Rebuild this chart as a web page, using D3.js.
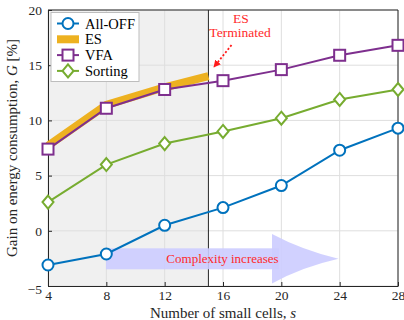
<!DOCTYPE html>
<html>
<head>
<meta charset="utf-8">
<script src="https://cdn.jsdelivr.net/npm/d3@7"></script>
<style>
  body { margin: 0; background: #fff; }
</style>
</head>
<body>
<script>
// chart data
var cells = [4, 8, 12, 16, 20, 24, 28];
var allOff = [-3.1, -2.1, 0.5, 2.1, 4.1, 7.3, 9.3];
var vfa = [7.4, 11.1, 12.8, 13.6, 14.6, 15.9, 16.8];
var sorting = [2.6, 6.0, 7.9, 9.0, 10.2, 11.9, 12.8];
var esCells = [4, 8, 12, 15];
var es = [7.7, 11.4, 13.0, 14.0];
var yTicks = [-5, 0, 5, 10, 15, 20];
var esLimit = 15;

var width = 404, height = 320;
var margin = {left: 48, right: 6, top: 10, bottom: 34};
var serif = "'Liberation Serif', Tinos, 'Times New Roman', Times, 'DejaVu Serif', serif";

var svg = d3.select("body").append("svg")
    .attr("width", width)
    .attr("height", height)
    .style("font-family", serif);

var x = d3.scaleLinear().domain([4, 28]).range([margin.left, width - margin.right]);
var y = d3.scaleLinear().domain([-5, 20]).range([height - margin.bottom, margin.top]);

var colors = {allOff: "#0072BD", es: "#EDB120", vfa: "#7E2F8E", sorting: "#77AC30"};

// shaded region where ES runs
svg.append("rect")
    .attr("x", x(4)).attr("y", y(20))
    .attr("width", x(esLimit) - x(4))
    .attr("height", y(-5) - y(20))
    .attr("fill", "#f0f0f0");

// grid
svg.selectAll(".gx").data(cells).enter().append("line")
    .attr("x1", d => x(d)).attr("x2", d => x(d))
    .attr("y1", y(-5)).attr("y2", y(20))
    .attr("stroke", "#dedede").attr("stroke-width", 1);
svg.selectAll(".gy").data(yTicks).enter().append("line")
    .attr("x1", x(4)).attr("x2", x(28))
    .attr("y1", d => y(d)).attr("y2", d => y(d))
    .attr("stroke", "#dedede").attr("stroke-width", 1);

// ES termination line
svg.append("line")
    .attr("x1", x(esLimit)).attr("x2", x(esLimit))
    .attr("y1", y(-5)).attr("y2", y(20))
    .attr("stroke", "#262626").attr("stroke-width", 1);

// axes
var xAxis = d3.axisBottom(x).tickValues(cells).tickSizeInner(-4).tickSizeOuter(0).tickPadding(4);
var yAxis = d3.axisLeft(y).tickValues(yTicks).tickSizeInner(-4).tickSizeOuter(0).tickPadding(6);
var gx = svg.append("g").attr("transform", "translate(0," + y(-5) + ")").call(xAxis);
var gy = svg.append("g").attr("transform", "translate(" + x(4) + ",0)").call(yAxis);
[gx, gy].forEach(function(g) {
    g.attr("font-family", null).attr("font-size", null);
    g.select(".domain").attr("stroke", "#262626");
    g.selectAll(".tick line").attr("stroke", "#262626");
    g.selectAll(".tick text").attr("fill", "#262626").style("font-size", "13.5px");
});
gy.selectAll(".tick text").filter(d => d === -5).attr("dy", "0.55em");
// top and right border
svg.append("line").attr("x1", x(4)).attr("x2", x(28)).attr("y1", y(20)).attr("y2", y(20))
    .attr("stroke", "#262626");
svg.append("line").attr("x1", x(28)).attr("x2", x(28)).attr("y1", y(20)).attr("y2", y(-5))
    .attr("stroke", "#262626");

// complexity arrow
var ay = 258.8;
var body = [106, 248.3, 279, 269.3];
var arrowColor = "#ccccff";
svg.append("rect")
    .attr("x", body[0]).attr("y", body[1])
    .attr("width", body[2] - body[0]).attr("height", body[3] - body[1])
    .attr("fill", arrowColor).attr("opacity", 0.9);
var hx = 272, tip = 338.5;
svg.append("path")
    .attr("d", "M" + hx + ",234 Q" + (hx + 30) + ",250 " + tip + "," + ay +
        " Q" + (hx + 30) + ",267 " + hx + ",283.5 Z")
    .attr("fill", arrowColor).attr("opacity", 0.9);
svg.append("text")
    .attr("x", 222.5).attr("y", ay + 4.5)
    .attr("text-anchor", "middle")
    .attr("fill", "#ff2a2a").style("font-size", "13px")
    .text("Complexity increases");

// lines
var line = d3.line().x(d => x(d[0])).y(d => y(d[1]));

svg.append("path")
    .datum(d3.zip(esCells, es))
    .attr("d", line)
    .attr("fill", "none")
    .attr("stroke", colors.es)
    .attr("stroke-width", 8);

function series(vals, color) {
    svg.append("path")
        .datum(d3.zip(cells, vals))
        .attr("d", line)
        .attr("fill", "none")
        .attr("stroke", color)
        .attr("stroke-width", 2);
}
series(sorting, colors.sorting);
series(allOff, colors.allOff);
series(vfa, colors.vfa);

function marker(g, type, cx, cy, color) {
    if (type === "circle") {
        g.append("circle").attr("cx", cx).attr("cy", cy).attr("r", 5.5)
            .attr("fill", "#fff").attr("stroke", color).attr("stroke-width", 2);
    } else if (type === "square") {
        g.append("rect").attr("x", cx - 5.5).attr("y", cy - 5.5)
            .attr("width", 11).attr("height", 11)
            .attr("fill", "#fff").attr("stroke", color).attr("stroke-width", 2);
    } else {
        g.append("path")
            .attr("d", "M" + cx + "," + (cy - 6.5) + " L" + (cx + 5.5) + "," + cy +
                " L" + cx + "," + (cy + 6.5) + " L" + (cx - 5.5) + "," + cy + " Z")
            .attr("fill", "#fff").attr("stroke", color).attr("stroke-width", 2);
    }
}
cells.forEach(function(c, i) {
    marker(svg, "diamond", x(c), y(sorting[i]), colors.sorting);
    marker(svg, "circle", x(c), y(allOff[i]), colors.allOff);
    marker(svg, "square", x(c), y(vfa[i]), colors.vfa);
});

// ES terminated annotation
svg.append("defs").append("marker")
    .attr("id", "head").attr("viewBox", "0 0 10 10")
    .attr("refX", 9).attr("refY", 5)
    .attr("markerWidth", 4).attr("markerHeight", 4)
    .attr("orient", "auto")
    .append("path").attr("d", "M0,0 L10,5 L0,10 Z").attr("fill", "#ff1a1a");
svg.append("line")
    .attr("x1", 231.5).attr("y1", 45).attr("x2", 214).attr("y2", 67)
    .attr("stroke", "#ff1a1a").attr("stroke-width", 1.8)
    .attr("stroke-dasharray", "2,2")
    .attr("marker-end", "url(#head)");
var ann = svg.append("text").attr("fill", "#ff2a2a").style("font-size", "13.5px")
    .attr("text-anchor", "middle");
ann.append("tspan").attr("x", 241).attr("y", 22.5).text("ES");
ann.append("tspan").attr("x", 240).attr("y", 37).text("Terminated");

// legend
var leg = svg.append("g");
leg.append("rect").attr("x", 51).attr("y", 12.5).attr("width", 88).attr("height", 69)
    .attr("fill", "#fff").attr("stroke", "#bdbdbd").attr("stroke-width", 1);
var items = [
    {name: "All-OFF", color: colors.allOff, type: "circle"},
    {name: "ES", color: colors.es, type: "band"},
    {name: "VFA", color: colors.vfa, type: "square"},
    {name: "Sorting", color: colors.sorting, type: "diamond"}
];
items.forEach(function(it, i) {
    var ly = 23.5 + i * 15.8;
    if (it.type === "band") {
        leg.append("line").attr("x1", 57).attr("x2", 79).attr("y1", ly).attr("y2", ly)
            .attr("stroke", it.color).attr("stroke-width", 8);
    } else {
        leg.append("line").attr("x1", 57).attr("x2", 79).attr("y1", ly).attr("y2", ly)
            .attr("stroke", it.color).attr("stroke-width", 2);
        marker(leg, it.type, 68, ly, it.color);
    }
    leg.append("text").attr("x", 85).attr("y", ly + 5)
        .style("font-size", "14.5px").attr("fill", "#000").text(it.name);
});

// axis labels
var xl = svg.append("text")
    .attr("x", (x(4) + x(28)) / 2).attr("y", 317.5)
    .attr("text-anchor", "middle").style("font-size", "15px").attr("fill", "#262626");
xl.append("tspan").text("Number of small cells, ");
xl.append("tspan").attr("font-style", "italic").text("s");

var yl = svg.append("text")
    .attr("transform", "translate(17," + ((y(-5) + y(20)) / 2) + ") rotate(-90)")
    .attr("text-anchor", "middle").style("font-size", "15px").attr("fill", "#262626");
yl.append("tspan").text("Gain on energy consumption, ");
yl.append("tspan").attr("font-style", "italic").text("G");
yl.append("tspan").text(" [%]");
</script>
</body>
</html>
